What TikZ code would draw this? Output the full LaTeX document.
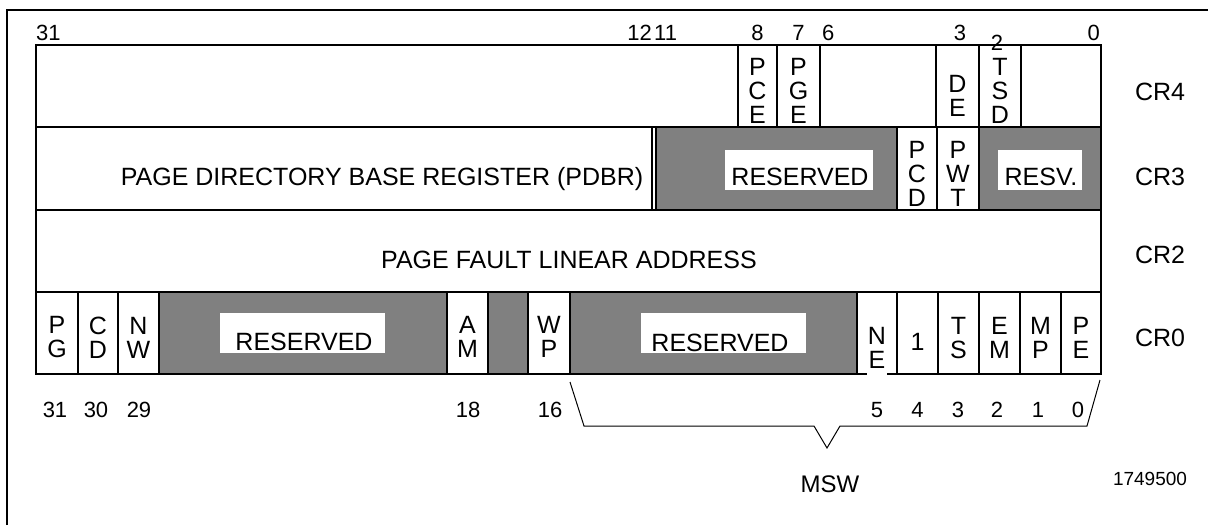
\documentclass[tikz,border=0pt]{standalone}
\usepackage{fontspec}
\setmainfont{Liberation Sans}
\definecolor{resvgrey}{HTML}{808080}
\tikzset{
    every node/.style={inner sep=0pt, font=\fontsize{25}{24}\selectfont}
}
\tikzset{
    cell/.style={draw, line width=1.5pt},
    resvcell/.style={cell, fill=resvgrey},
    bits/.style={align=center},
    txt/.style={anchor=base},
    bitnum/.style={anchor=base, font=\fontsize{22}{24}\selectfont}
}

\begin{document}
\begin{tikzpicture}[x=1pt, y=-1pt]
  \useasboundingbox (0,0) rectangle (1208,525);
  \draw [line width=2pt] (7,525) -- (7,10) -- (1208,10);

  % CR4
  \draw [cell] (36,45) rectangle (1101,127);
  \draw [cell] (738,45) -- (738,127) (777,45) -- (777,127) (820,45) -- (820,127)
    (936,45) -- (936,127) (979,45) -- (979,127) (1021,45) -- (1021,127);
  % CR3
  \draw [cell] (36,127) rectangle (652,210);
  \draw [resvcell] (656,127) rectangle (897,210);
  \draw [cell] (897,127) rectangle (937,210);
  \draw [cell] (937,127) rectangle (979,210);
  \draw [resvcell] (979,127) rectangle (1101,210);
  \fill [white] (725,150) rectangle (873,190);
  \fill [white] (998,150) rectangle (1082,190);
  % CR2
  \draw [cell] (36,210) rectangle (1101,292);
  % CR0
  \draw [cell] (36,292) rectangle (78,374);
  \draw [cell] (78,292) rectangle (118,374);
  \draw [cell] (118,292) rectangle (159,374);
  \draw [resvcell] (159,292) rectangle (447,374);
  \draw [cell] (447,292) rectangle (488,374);
  \draw [resvcell] (488,292) rectangle (528,374);
  \draw [cell] (528,292) rectangle (570,374);
  \draw [resvcell] (570,292) rectangle (857,374);
  \draw [cell] (857,292) rectangle (897,374);
  \draw [cell] (897,292) rectangle (938,374);
  \draw [cell] (938,292) rectangle (979,374);
  \draw [cell] (979,292) rectangle (1020,374);
  \draw [cell] (1020,292) rectangle (1061,374);
  \draw [cell] (1061,292) rectangle (1101,374);
  \fill [white] (220,313) rectangle (385,353);
  \fill [white] (641,313) rectangle (806,353);
  \fill [white] (867,366) rectangle (887,378);

  \node (t31) [bitnum, anchor=base west] at (36,40) {31};
  \node (t12) [bitnum, anchor=base east] at (652,40) {12};
  \node (t11) [bitnum, anchor=base west] at (654,40) {11};
  \node (t8) [bitnum] at (757.5,40) {8};
  \node (t7) [bitnum] at (798.5,40) {7};
  \node (t6) [bitnum, anchor=base west] at (822,40) {6};
  \node (t3) [bitnum] at (960,40) {3};
  \node (t2) [bitnum] at (997,50) {2};
  \node (t0) [bitnum, anchor=base east] at (1100,40) {0};

  \node (pce) [bits] at (757.5,90.5) {P\\C\\E};
  \node (pge) [bits] at (798.5,90.5) {P\\G\\E};
  \node (de) [bits] at (957.5,95.5) {D\\E};
  \node (tsd) [bits] at (1000,91) {T\\S\\D};

  \node (pdbr) [txt] at (382,185) {PAGE DIRECTORY BASE REGISTER (PDBR)};
  \node (resv3) [txt] at (800,185) {RESERVED};
  \node (pcd) [bits] at (917,173.5) {P\\C\\D};
  \node (pwt) [bits] at (958,173.5) {P\\W\\T};
  \node (resv3b) [txt] at (1041,185) {RESV.};

  \node (pfla) [txt] at (569,268) {PAGE FAULT LINEAR ADDRESS};

  \node (pg) [bits] at (57,337.5) {P\\G};
  \node (cd) [bits] at (98,337.5) {C\\D};
  \node (nw) [bits] at (138.5,337.5) {N\\W};
  \node (resv0) [txt] at (304,350) {RESERVED};
  \node (am) [bits] at (467.5,337) {A\\M};
  \node (wp) [bits] at (549,337) {W\\P};
  \node (resv0b) [txt] at (720,351) {RESERVED};
  \node (ne) [bits] at (877,348) {N\\E};
  \node (one) [txt] at (917.5,350) {1};
  \node (ts) [bits] at (958.5,338) {T\\S};
  \node (em) [bits] at (999.5,338) {E\\M};
  \node (mp) [bits] at (1040.5,338) {M\\P};
  \node (pe) [bits] at (1081,338) {P\\E};

  \node (cr4) [txt] at (1160,100) {CR4};
  \node (cr3) [txt] at (1160,185) {CR3};
  \node (cr2) [txt] at (1160,263) {CR2};
  \node (cr0) [txt] at (1160,346) {CR0};

  \node (b31) [bitnum] at (55,417) {31};
  \node (b30) [bitnum] at (96,417) {30};
  \node (b29) [bitnum] at (139,417) {29};
  \node (b18) [bitnum] at (468,417) {18};
  \node (b16) [bitnum] at (550,417) {16};
  \node (b5) [bitnum] at (877,417) {5};
  \node (b4) [bitnum] at (917.5,417) {4};
  \node (b3) [bitnum] at (958,417) {3};
  \node (b2) [bitnum] at (997,417) {2};
  \node (b1) [bitnum] at (1038,417) {1};
  \node (b0) [bitnum] at (1078,417) {0};

  \coordinate (msw-l) at (570,382);
  \coordinate (msw-r) at (1100,380);
  \coordinate (msw-tip) at (827,448);
  \draw [line width=1pt] (msw-l) -- (584,426) -- (814,426) -- (msw-tip)
    -- (840,426) -- (1087,426) -- (msw-r);
  \node (msw) [txt, font=\fontsize{24}{24}\selectfont] at (830,492) {MSW};
  \node (figno) [txt, font=\fontsize{19}{20}\selectfont] at (1150,485) {1749500};
\end{tikzpicture}
\end{document}
